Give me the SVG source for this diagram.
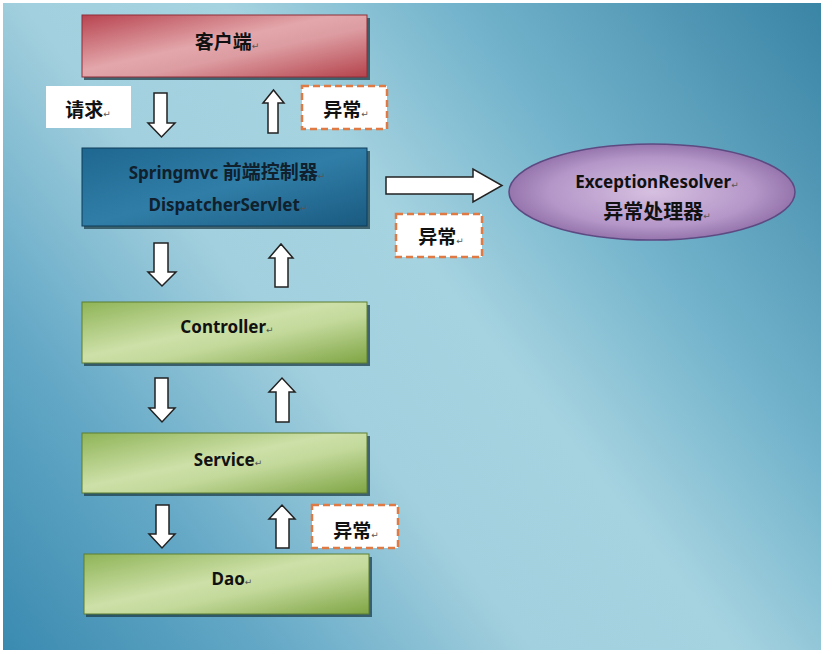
<svg xmlns="http://www.w3.org/2000/svg" width="832" height="654" viewBox="0 0 832 654">
<defs>
<linearGradient id="bg" gradientUnits="userSpaceOnUse" x1="821" y1="3" x2="3" y2="650">
<stop offset="0" stop-color="#3a84a5"/>
<stop offset="0.28" stop-color="#74b4cc"/>
<stop offset="0.45" stop-color="#a6d3e0"/>
<stop offset="0.6" stop-color="#a3d0de"/>
<stop offset="0.8" stop-color="#64a8c6"/>
<stop offset="1" stop-color="#3a8ab0"/>
</linearGradient>
<linearGradient id="red" x1="0" y1="0" x2="1" y2="1">
<stop offset="0" stop-color="#b84450"/>
<stop offset="0.45" stop-color="#e3a7ab"/>
<stop offset="0.6" stop-color="#dc9ca1"/>
<stop offset="1" stop-color="#b5434c"/>
</linearGradient>
<linearGradient id="blue" x1="0" y1="0" x2="1" y2="1">
<stop offset="0" stop-color="#1e6790"/>
<stop offset="0.5" stop-color="#307ea8"/>
<stop offset="1" stop-color="#1a5a80"/>
</linearGradient>
<linearGradient id="green" x1="0" y1="0" x2="1" y2="1">
<stop offset="0" stop-color="#8fb457"/>
<stop offset="0.45" stop-color="#cde0a8"/>
<stop offset="0.6" stop-color="#c3d99b"/>
<stop offset="1" stop-color="#7fa544"/>
</linearGradient>
<radialGradient id="purple" cx="0.5" cy="0.5" r="0.6">
<stop offset="0" stop-color="#d6c0e0"/>
<stop offset="0.6" stop-color="#b496c8"/>
<stop offset="1" stop-color="#7f5d98"/>
</radialGradient>
</defs>
<style>
text{font-family:"Noto Sans","Noto Sans CJK SC",sans-serif;font-weight:bold;font-size:17px;fill:#111;text-anchor:middle}
.cjk{font-family:"Noto Sans CJK SC","Noto Sans",sans-serif;font-size:19px}
.pm{font-family:"DejaVu Sans",sans-serif;font-size:9px;font-weight:normal;fill:#555}
.shadow{fill:#1f3f4a;opacity:0.75}
.label{fill:#fff}
.exc{fill:#fff;stroke:#e07a45;stroke-width:2.5;stroke-dasharray:7 4}
.arrow{fill:#fff;stroke:#222;stroke-width:1.5;stroke-linejoin:miter}
</style>
<rect width="832" height="654" fill="#fff"/>
<rect x="3" y="3" width="818" height="647" fill="url(#bg)"/>

<g id="client">
<rect class="shadow" x="84" y="18" width="286" height="62"/>
<rect x="82" y="15" width="285" height="62" fill="url(#red)" stroke="#8f2f38" stroke-width="1"/>
<text x="227" y="49" class="cjk">客户端<tspan class="pm">↵</tspan></text>
</g>

<g id="request-label">
<rect class="label" x="46" y="86" width="85" height="42"/>
<text x="88" y="117" class="cjk">请求<tspan class="pm">↵</tspan></text>
</g>

<g id="exception-label-1">
<rect class="exc" x="302" y="86" width="85" height="43"/>
<text x="346" y="117" class="cjk">异常<tspan class="pm">↵</tspan></text>
</g>

<g id="dispatcher">
<rect class="shadow" x="84" y="151" width="286" height="78"/>
<rect x="82" y="148" width="285" height="78" fill="url(#blue)" stroke="#0f3d58" stroke-width="1"/>
<text x="227" y="179" style="fill:#10202c">Springmvc <tspan class="cjk">前端控制器</tspan><tspan class="pm">↵</tspan></text>
<text x="228" y="211" style="fill:#10202c">DispatcherServlet<tspan class="pm">↵</tspan></text>
</g>

<g id="exception-resolver">
<ellipse cx="652" cy="192" rx="143" ry="48" fill="url(#purple)" stroke="#5e4a82" stroke-width="1.5"/>
<text x="657" y="188">ExceptionResolver<tspan class="pm">↵</tspan></text>
<text x="657" y="219" class="cjk" style="font-size:20px">异常处理器<tspan class="pm">↵</tspan></text>
</g>

<g id="exception-label-2">
<rect class="exc" x="396" y="214" width="86" height="43"/>
<text x="441" y="244" class="cjk">异常<tspan class="pm">↵</tspan></text>
</g>

<g id="controller">
<rect class="shadow" x="84" y="305" width="286" height="61"/>
<rect x="82" y="302" width="285" height="61" fill="url(#green)" stroke="#5d7f33" stroke-width="1"/>
<text x="227" y="333">Controller<tspan class="pm">↵</tspan></text>
</g>

<g id="service">
<rect class="shadow" x="84" y="436" width="286" height="60"/>
<rect x="82" y="433" width="285" height="60" fill="url(#green)" stroke="#5d7f33" stroke-width="1"/>
<text x="228" y="466">Service<tspan class="pm">↵</tspan></text>
</g>

<g id="exception-label-3">
<rect class="exc" x="312" y="505" width="86" height="43"/>
<text x="356" y="538" class="cjk">异常<tspan class="pm">↵</tspan></text>
</g>

<g id="dao">
<rect class="shadow" x="86" y="557" width="286" height="60"/>
<rect x="84" y="554" width="285" height="60" fill="url(#green)" stroke="#5d7f33" stroke-width="1"/>
<text x="232" y="585">Dao<tspan class="pm">↵</tspan></text>
</g>

<g id="connectors">
<path class="arrow" d="M154,93 H167 V123 H175 L161.5,137 L148,123 H154 Z"/>
<path class="arrow" d="M268,133 V103 H263 L273.5,90 L284,103 H278 V133 Z"/>
<path class="arrow" d="M386,177 H473 V169 L502,185.5 L473,202 V194 H386 Z"/>
<path class="arrow" d="M154,243 H168 V272 H176 L162,286 L148,272 H154 Z"/>
<path class="arrow" d="M275,287 V258 H269 L281,244 L293,258 H288 V287 Z"/>
<path class="arrow" d="M155,378 H168 V408 H175 L162,422 L149,408 H155 Z"/>
<path class="arrow" d="M276,422 V392 H269 L282,378 L295,392 H289 V422 Z"/>
<path class="arrow" d="M156,505 H169 V534 H175 L162,548 L149,534 H156 Z"/>
<path class="arrow" d="M276,548 V519 H269 L282,505 L295,519 H289 V548 Z"/>
</g>
</svg>
